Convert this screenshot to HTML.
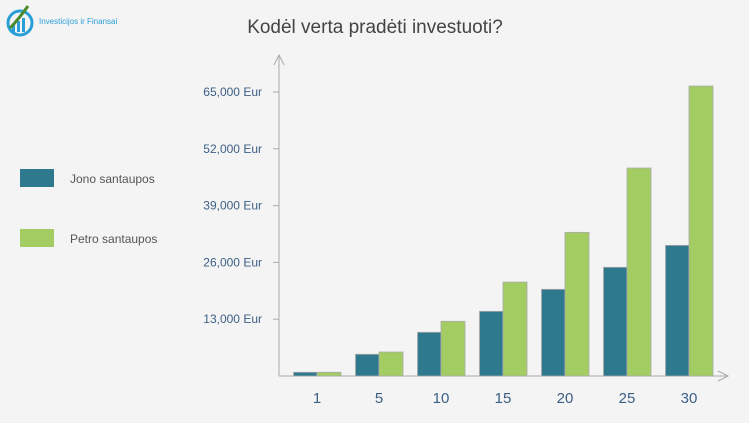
<!DOCTYPE html>
<html><head><meta charset="utf-8"><style>
body{margin:0;background:#f4f4f4;}
svg{display:block;font-family:"Liberation Sans",sans-serif;}
</style></head><body>
<svg width="749" height="423">
<rect width="749" height="423" fill="#f4f4f4"/>
<g>
<circle cx="20" cy="23" r="12" fill="none" stroke="#2a9fd6" stroke-width="3"/>
<rect x="12" y="24" width="3" height="8" fill="#2a9fd6"/><rect x="17" y="21" width="3" height="11" fill="#2a9fd6"/><rect x="22" y="18" width="3" height="14" fill="#2a9fd6"/>
<path d="M10 28 Q18 20 28 6" stroke="#4a8a2a" stroke-width="3" fill="none"/>
<text x="39" y="24" font-size="8" fill="#2a9fd6">Investicijos ir Finansai</text>
</g>
<text x="375" y="33" text-anchor="middle" font-size="19" fill="#444">Kodėl verta pradėti investuoti?</text>
<g>
<rect x="20" y="169" width="34" height="18" fill="#2e798e"/>
<text x="70" y="183" font-size="12" fill="#555">Jono santaupos</text>
<rect x="20" y="229" width="34" height="18" fill="#a3cd62"/>
<text x="70" y="243" font-size="12" fill="#555">Petro santaupos</text>
</g>
<g id="plot"></g>
</svg>
<script>
const categories=["1","5","10","15","20","25","30"];
const jono=[850,4970,10000,14800,19840,24880,29900];
const petro=[850,5490,12520,21500,32880,47600,66370];
const yTicks=[13000,26000,39000,52000,65000];
const yTickLabels=["13,000 Eur","26,000 Eur","39,000 Eur","52,000 Eur","65,000 Eur"];
const NS="http://www.w3.org/2000/svg";
const g=document.getElementById('plot');
const x0=279,base=376,pxPer=56.8/13000;
const y=v=>base-v*pxPer;
const gx=i=>317+i*62;
function el(t,a,txt){const e=document.createElementNS(NS,t);for(const k in a)e.setAttribute(k,a[k]);if(txt!=null)e.textContent=txt;g.appendChild(e);return e;}
let e;
e=el('path',{d:`M${x0} 376 V55 M${x0-5} 65 L${x0} 55 L${x0+5} 65`,stroke:'#aaa',fill:'none','stroke-width':1});


e=el('path',{d:`M${x0} 376 H728 M718 371 L728 376 L718 381`,stroke:'#aaa',fill:'none','stroke-width':1});


yTicks.forEach((t,i)=>{
 e=el('line',{x1:x0-6,x2:x0,y1:y(t),y2:y(t),stroke:'#aaa'});
 
 
 e=el('text',{x:262,y:y(t)+4,'text-anchor':'end','font-size':12,fill:'#3d5f86'},yTickLabels[i]);
 
 
});
categories.forEach((c,i)=>{
 const cx=gx(i);
 e=el('rect',{x:cx-23.5,y:y(jono[i]),width:23.5,height:jono[i]*pxPer,fill:'#2e798e',stroke:'#aaa','stroke-width':0.8});
 
 
 e=el('rect',{x:cx,y:y(petro[i]),width:24,height:petro[i]*pxPer,fill:'#a3cd62',stroke:'#aaa','stroke-width':0.8});
 
 
 e=el('text',{x:cx,y:403,'text-anchor':'middle','font-size':15,fill:'#3d5f86'},c);
 
 
});
</script>
</body></html>
